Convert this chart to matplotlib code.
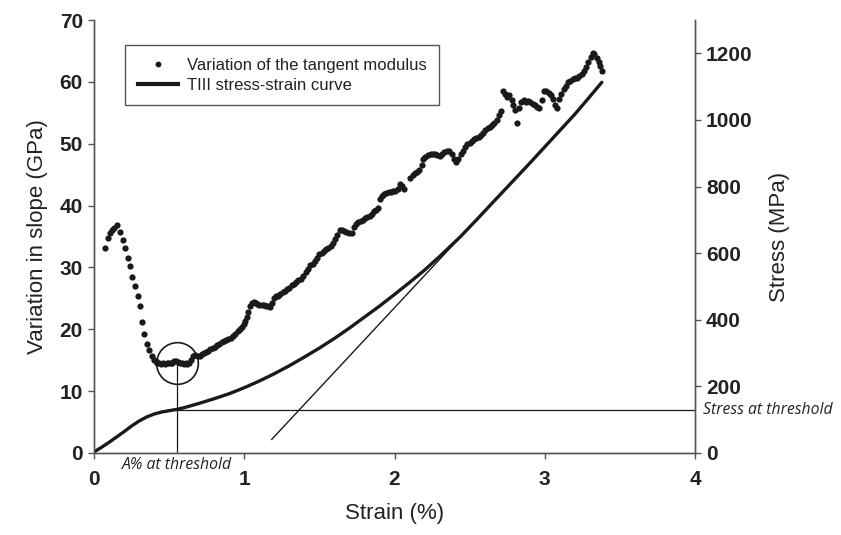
import matplotlib.pyplot as plt
from matplotlib.lines import Line2D

# Tangent modulus (GPa) vs strain (%)
modulus_strain = [
    0.073, 0.093, 0.108, 0.12, 0.135, 0.153, 0.173, 0.193, 0.206, 0.226,
    0.24, 0.253, 0.273, 0.295, 0.306, 0.321, 0.335, 0.355, 0.368, 0.384,
    0.398, 0.41, 0.422, 0.435, 0.447, 0.46, 0.472, 0.485, 0.497, 0.51,
    0.522, 0.535, 0.547, 0.56, 0.572, 0.585, 0.597, 0.61, 0.622, 0.635,
    0.648, 0.661, 0.675, 0.69, 0.705, 0.718, 0.73, 0.745, 0.76, 0.775,
    0.79, 0.805, 0.82, 0.835, 0.85, 0.865, 0.88, 0.895, 0.91, 0.927,
    0.94, 0.955, 0.97, 0.983, 0.997, 1.008, 1.018, 1.028, 1.038, 1.05,
    1.062, 1.075, 1.088, 1.10, 1.116, 1.13, 1.145, 1.16, 1.172, 1.185,
    1.198, 1.212, 1.226, 1.24, 1.255, 1.27, 1.285, 1.30, 1.315, 1.33,
    1.345, 1.36, 1.375, 1.393, 1.41, 1.425, 1.44, 1.455, 1.47, 1.485,
    1.50, 1.515, 1.53, 1.545, 1.56, 1.575, 1.59, 1.605, 1.62, 1.637,
    1.65, 1.665, 1.68, 1.70, 1.715, 1.73, 1.745, 1.76, 1.775, 1.79,
    1.805, 1.82, 1.837, 1.85, 1.865, 1.88, 1.892, 1.905, 1.918, 1.93,
    1.945, 1.96, 1.975, 1.99, 2.005, 2.02, 2.037, 2.05, 2.065, 2.10,
    2.12, 2.135, 2.15, 2.165, 2.18, 2.19, 2.205, 2.22, 2.24, 2.255,
    2.27, 2.285, 2.30, 2.315, 2.33, 2.35, 2.365, 2.38, 2.395, 2.41,
    2.425, 2.44, 2.455, 2.47, 2.485, 2.50, 2.515, 2.53, 2.545, 2.56,
    2.575, 2.59, 2.605, 2.62, 2.635, 2.65, 2.665, 2.68, 2.695, 2.71,
    2.72, 2.735, 2.75, 2.765, 2.78, 2.79, 2.80, 2.815, 2.83, 2.845,
    2.86, 2.875, 2.89, 2.905, 2.92, 2.935, 2.95, 2.965, 2.98, 2.995,
    3.01, 3.025, 3.04, 3.055, 3.07, 3.08, 3.095, 3.11, 3.125, 3.14,
    3.155, 3.17, 3.185, 3.20, 3.215, 3.23, 3.245, 3.26, 3.275, 3.29,
    3.305, 3.32, 3.33, 3.345, 3.36, 3.37, 3.38,
]
modulus_gpa = [
    33.1, 34.8, 35.6, 36.0, 36.3, 36.9, 35.7, 34.4, 33.1, 31.6,
    30.2, 28.5, 27.0, 25.4, 23.7, 21.2, 19.3, 17.6, 16.7, 15.6,
    15.0, 14.8, 14.6, 14.5, 14.4, 14.5, 14.4, 14.5, 14.6, 14.5,
    14.6, 14.8, 14.9, 14.7, 14.5, 14.5, 14.4, 14.5, 14.4, 14.6,
    15.1, 15.6, 15.8, 15.6, 15.7, 16.0, 16.1, 16.3, 16.5, 16.8,
    16.9, 17.2, 17.5, 17.7, 17.9, 18.1, 18.2, 18.4, 18.6, 18.9,
    19.3, 19.7, 20.0, 20.4, 20.9, 21.4, 22.0, 22.8, 23.7, 24.2,
    24.4, 24.3, 24.1, 24.0, 23.9, 23.9, 23.8, 23.7, 23.6, 24.2,
    25.0, 25.3, 25.4, 25.7, 26.0, 26.2, 26.5, 26.7, 27.1, 27.3,
    27.6, 27.9, 28.2, 28.6, 29.2, 29.7, 30.4, 30.6, 31.0, 31.5,
    32.1, 32.4, 32.7, 33.0, 33.2, 33.5, 33.9, 34.6, 35.3, 36.0,
    36.1, 35.9, 35.7, 35.6, 35.5, 36.6, 37.0, 37.3, 37.5, 37.7,
    38.0, 38.2, 38.3, 38.7, 39.1, 39.3, 39.6, 41.0, 41.6, 41.8,
    42.0, 42.2, 42.2, 42.3, 42.4, 42.7, 43.5, 43.2, 42.6, 44.5,
    45.0, 45.2, 45.5, 45.8, 46.6, 47.6, 47.9, 48.2, 48.4, 48.3,
    48.4, 48.2, 48.0, 48.3, 48.6, 48.9, 48.9, 48.4, 47.6, 47.0,
    47.5, 48.3, 48.9, 49.5, 49.9, 50.1, 50.4, 50.7, 50.9, 51.1,
    51.4, 51.7, 52.2, 52.5, 52.7, 53.0, 53.4, 53.8, 54.6, 55.3,
    58.5, 58.0, 57.6, 57.8, 57.0, 56.3, 55.4, 53.4, 55.8, 56.8,
    57.0, 56.8, 56.9, 56.7, 56.4, 56.2, 56.0, 55.8, 57.0, 58.5,
    58.6, 58.2, 57.8, 57.2, 56.2, 55.8, 57.3, 58.0, 58.8, 59.4,
    59.9, 60.2, 60.4, 60.6, 60.7, 61.0, 61.3, 61.7, 62.4, 63.2,
    64.0, 64.6, 64.5, 63.8, 63.2, 62.6, 61.8,
]

# TIII stress-strain curve (MPa)
curve_strain = [0.0, 0.05, 0.1, 0.15, 0.2, 0.25, 0.3, 0.35, 0.4, 0.45, 0.5,
                0.552, 0.6, 0.7, 0.8, 0.9, 1.0, 1.1, 1.2, 1.3, 1.4, 1.5, 1.6,
                1.7, 1.8, 1.9, 2.0, 2.1, 2.2, 2.3, 2.44, 2.55, 2.66, 2.8, 2.9,
                3.0, 3.1, 3.2, 3.3, 3.38]
curve_stress = [3, 17, 32, 48, 64, 81, 96, 108, 117, 123, 127,
                131, 136, 149, 163, 178, 196, 216, 238, 262, 288, 315, 344,
                375, 408, 441, 476, 512, 549, 590, 650, 702, 755, 822, 870,
                919, 968, 1017, 1070, 1113]

# tangent line to the linear part of the curve
tangent_strain = [1.183, 2.44]
tangent_stress = [41, 649]

threshold_strain = 0.552
threshold_modulus = 14.5
threshold_stress = 130

ink = "#1a1a1a"
spine_col = "#555555"

fig = plt.figure(figsize=(8.41, 5.35), dpi=100)
ax = fig.add_axes([0.1118, 0.1533, 0.7146, 0.8093])
ax2 = ax.twinx()

ax.plot(modulus_strain, modulus_gpa, "o", color=ink, markersize=4.5, markeredgewidth=0)

# threshold marks
ax.plot([threshold_strain, threshold_strain], [0, threshold_modulus], color=ink, lw=0.9)
ax.plot([threshold_strain], [threshold_modulus], "o", markersize=30, mfc="none",
        mec=ink, mew=1.2)

ax2.plot(curve_strain, curve_stress, color=ink, lw=2.4, solid_capstyle="round",
         solid_joinstyle="round")
ax2.plot(tangent_strain, tangent_stress, color=ink, lw=1.0)
ax2.plot([threshold_strain, 4], [threshold_stress, threshold_stress], color=ink, lw=0.9)

ax.set_xlim(0, 4)
ax.set_ylim(0, 70)
ax2.set_ylim(0, 1300)
ax.set_xticks([0, 1, 2, 3, 4])
ax.set_yticks(range(0, 71, 10))
ax2.set_yticks(range(0, 1201, 200))

tick_font = dict(family="Liberation Sans", size=15, weight="bold")
for a in (ax, ax2):
    a.spines["top"].set_visible(False)
    for s in a.spines.values():
        s.set_color(spine_col)
        s.set_linewidth(1.0)
    a.tick_params(direction="out", length=4, width=1.0, color=spine_col,
                  labelcolor="#222222", pad=4)
    for lab in a.get_xticklabels() + a.get_yticklabels():
        lab.set_fontproperties(tick_font)
ax.tick_params(axis="x", pad=8)

label_font = dict(family="Liberation Sans", size=16, color="#222222")
ax.set_xlabel("Strain (%)", labelpad=10, **label_font)
ax.set_ylabel("Variation in slope (GPa)", labelpad=8, **label_font)
ax2.set_ylabel("Stress (MPa)", labelpad=12, **label_font)

note_font = dict(family="Open Sans", style="italic", size=11.3, color="#222222")
ax2.text(4.05, threshold_stress, "Stress at threshold", ha="left", va="center",
         clip_on=False, **note_font)
ax.text(threshold_strain, -2.0, "A% at threshold", ha="center", va="center",
        clip_on=False, **note_font)

handles = [
    Line2D([], [], ls="none", marker="o", color=ink, markersize=4.2, markeredgewidth=0),
    Line2D([], [], color=ink, lw=3),
]
leg = ax2.legend(handles, ["Variation of the tangent modulus", "TIII stress-strain curve"],
                 loc="upper left", bbox_to_anchor=(0.0516, 0.942), borderaxespad=0,
                 fancybox=False, edgecolor=spine_col, framealpha=1,
                 prop=dict(family="Liberation Sans", size=12),
                 handlelength=2.4, handletextpad=0.55, borderpad=0.75, labelspacing=0.3)
leg.get_frame().set_linewidth(1.0)
for t in leg.get_texts():
    t.set_color("#222222")

fig.savefig("out.png", dpi=100)
